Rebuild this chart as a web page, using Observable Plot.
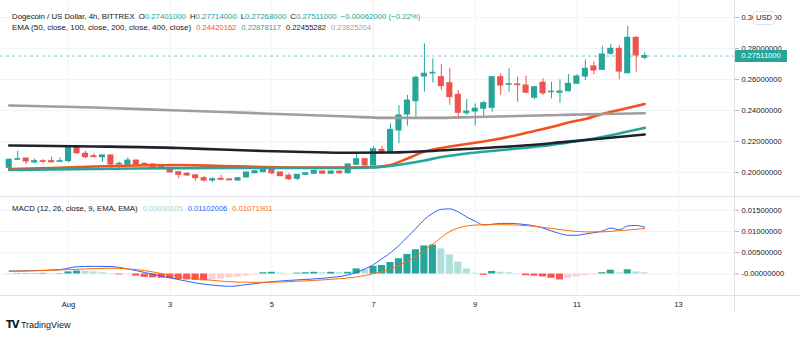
<!DOCTYPE html>
<html><head><meta charset="utf-8">
<script src="https://cdn.jsdelivr.net/npm/d3@7"></script>
<script src="https://cdn.jsdelivr.net/npm/@observablehq/plot@0.6"></script>
<style>
body{margin:0;background:#fff;font-family:"Liberation Sans",Arial,sans-serif;color:#131722}
#wrap{position:relative;width:800px;height:337px;overflow:hidden;background:#fff}
.abs{position:absolute}
.hdr{font-size:7.6px;white-space:nowrap;line-height:1}
.hdr span{margin-left:5px}
#h1{font-size:7.8px}
#h1 span{margin-left:4px}
.ttl2{font-size:8px}
</style></head><body><div id="wrap">
<div id="main" class="abs" style="left:0;top:0"></div>
<div id="macd" class="abs" style="left:0;top:197px"></div>
<div class="abs" style="left:0;top:196px;width:800px;height:1px;background:#e0e3eb"></div>
<div class="abs" style="left:0;top:295px;width:800px;height:1px;background:#e0e3eb"></div>
<div class="abs" style="left:734px;top:0;width:1px;height:313px;background:#e0e3eb"></div>
<div id="h1" class="abs hdr" style="left:12px;top:12.5px"></div>
<div id="h2" class="abs hdr" style="left:12px;top:24px"></div>
<div id="h3" class="abs hdr" style="left:12px;top:205px"></div>
<div id="usd" class="abs" style="left:753px;top:11px;width:20px;height:12px;border:1px solid #e0e3eb;border-radius:3px;background:#fff;font-size:7.6px;line-height:12px;text-align:center">USD</div>
<div id="plabel" class="abs" style="left:735px;width:52px;height:12px;background:#26a69a;color:#fff;font-size:7.6px;line-height:12px;text-align:center"></div>
<div class="abs" style="left:6px;top:319px;font-size:9px;white-space:nowrap"><b style="font-size:10px;letter-spacing:-1px;font-family:'DejaVu Sans'">TV</b> TradingView</div>
</div>
<script>
// ---- candle data (4h, index 0 = Jul 30 20:00) ----
const open  = [0.2030,0.2082,0.2090,0.2065,0.2073,0.2073,0.2069,0.2073,0.2170,0.2121,0.2105,0.2099,0.2110,0.2052,0.2050,0.2077,0.2056,0.2052,0.2034,0.2030,0.2002,0.1992,0.1981,0.1963,0.1948,0.1959,0.1955,0.1948,0.1968,0.1995,0.2002,0.2024,0.2000,0.1979,0.1959,0.1985,0.1992,0.2006,0.1992,0.2006,0.1995,0.2050,0.2086,0.2045,0.2146,0.2131,0.2271,0.2374,0.2460,0.2619,0.2639,0.2615,0.2576,0.2501,0.2382,0.2393,0.2411,0.2417,0.2615,0.2566,0.2568,0.2561,0.2482,0.2579,0.2518,0.2514,0.2524,0.2572,0.2619,0.2684,0.2662,0.2766,0.2798,0.2640,0.2869,0.27401];
const high  = [0.2087,0.2137,0.2092,0.2088,0.2082,0.2099,0.2095,0.2174,0.2174,0.2137,0.2121,0.2112,0.2112,0.2066,0.2095,0.2079,0.2060,0.2054,0.2045,0.2032,0.2006,0.1998,0.1987,0.1974,0.1966,0.1981,0.1959,0.1968,0.2002,0.2013,0.2032,0.2030,0.2002,0.1992,0.1987,0.1998,0.2015,0.2011,0.2011,0.2009,0.2056,0.2121,0.2090,0.2168,0.2168,0.2314,0.2432,0.2497,0.2621,0.2830,0.2733,0.2695,0.2673,0.2529,0.2471,0.2443,0.2460,0.2619,0.2637,0.2669,0.2615,0.2621,0.2555,0.2604,0.2582,0.2598,0.2632,0.2630,0.2727,0.2711,0.2815,0.2826,0.2819,0.2942,0.2877,0.27714];
const low   = [0.2026,0.2077,0.2052,0.2056,0.2056,0.2063,0.2063,0.2063,0.2116,0.2088,0.2095,0.2066,0.2013,0.2017,0.2045,0.2045,0.2047,0.2026,0.2019,0.1998,0.1961,0.1974,0.1945,0.1937,0.1937,0.1948,0.1946,0.1944,0.1966,0.1993,0.2000,0.1985,0.1974,0.1948,0.1948,0.1981,0.1987,0.1987,0.1987,0.1990,0.1990,0.2045,0.2041,0.2041,0.2120,0.2128,0.2185,0.2299,0.2357,0.2518,0.2576,0.2529,0.2432,0.2357,0.2368,0.2299,0.2346,0.2389,0.2497,0.2518,0.2453,0.2508,0.2471,0.2497,0.2475,0.2447,0.2519,0.2568,0.2593,0.2630,0.2658,0.2755,0.2598,0.2637,0.2647,0.27268];
const close = [0.2082,0.2086,0.2071,0.2073,0.2069,0.2066,0.2073,0.2163,0.2124,0.2099,0.2099,0.2110,0.2052,0.2056,0.2077,0.2050,0.2054,0.2030,0.2039,0.2000,0.1985,0.1981,0.1963,0.1948,0.1957,0.1953,0.1950,0.1963,0.2000,0.2008,0.2028,0.1995,0.1976,0.1957,0.1985,0.1995,0.2011,0.1992,0.2006,0.1995,0.2052,0.2086,0.2045,0.2150,0.2124,0.2275,0.2368,0.2464,0.2611,0.2637,0.2643,0.2557,0.2486,0.2385,0.2393,0.2411,0.2447,0.2615,0.2561,0.2570,0.2563,0.2514,0.2550,0.2511,0.2521,0.2522,0.2572,0.2619,0.2669,0.2658,0.2761,0.2798,0.2651,0.2869,0.2755,0.27511];

// ---- EMA lines (candle index, value) ----
const ema50Idx  = [0,5,10,15,20,25,30,35,40,43,45,47,49,51,54,57,60,62,64,66,68,70,72,75];
const ema50Val  = [0.2023,0.2029,0.2039,0.2045,0.2048,0.2042,0.2035,0.2032,0.2032,0.2035,0.2048,0.2090,0.2135,0.2158,0.2184,0.2210,0.2242,0.2268,0.2293,0.2323,0.2345,0.2377,0.2403,0.24420];
const ema100Idx = [0,5,10,15,20,25,30,35,40,43,45,47,49,51,54,57,60,63,66,68,70,73,75];
const ema100Val = [0.2016,0.2019,0.2023,0.2026,0.2028,0.2029,0.2029,0.2029,0.2029,0.2032,0.2042,0.2058,0.2077,0.2100,0.2123,0.2139,0.2155,0.2171,0.2194,0.2210,0.2229,0.2264,0.22878];
const ema200Idx = [0,10,20,25,30,35,40,45,50,55,60,65,70,75];
const ema200Val = [0.2174,0.2168,0.2158,0.2148,0.2139,0.2132,0.2127,0.2129,0.2139,0.2155,0.2171,0.2194,0.2219,0.22455];
const ema400Idx = [0,10,20,30,40,45,50,55,60,65,70,75];
const ema400Val = [0.2432,0.2419,0.2400,0.2381,0.2361,0.2352,0.2352,0.2358,0.2364,0.2371,0.2377,0.23825];

// ---- MACD ----
const histVal = [-0.0002,0.0001,0.0001,0.0001,0.00015,0.0001,0.0001,0.0005,0.0007,0.0006,0.0005,0.0003,0.0001,-0.0002,-0.0001,-0.0005,-0.0008,-0.0009,-0.0010,-0.0011,-0.0013,-0.0014,-0.0015,-0.0016,-0.0014,-0.0012,-0.0009,-0.0007,-0.0005,-0.0002,0.0003,0.0004,0.0002,0.0001,0.0002,0.0003,0.0004,0.0003,0.0004,0.0003,0.0004,0.0012,0.0010,0.0018,0.0020,0.0027,0.0036,0.0046,0.0057,0.0066,0.0068,0.0059,0.0045,0.0028,0.0012,0.0002,-0.0003,0.0006,0.0004,0.0003,0.0001,-0.0004,-0.0005,-0.0007,-0.0010,-0.0014,-0.0010,-0.0007,-0.0004,-0.0002,0.0003,0.0009,0.0003,0.0010,0.0005,0.00030105];
const macdIdx = [0,3,6,8,10,12,14,16,18,20,22,24,26,28,30,33,37,40,42,43,44,45,46,47,48,49,50,51,52,53,54,55,56,57,58,59,60,61,62,63,64,65,66,67,68,69,70,71,72,73,74,75];
const macdVal = [0.00066,0.0008,0.00106,0.0017,0.0018,0.00176,0.0012,0.00035,-0.0005,-0.0013,-0.0021,-0.0026,-0.0029,-0.0025,-0.0020,-0.0015,-0.0010,-0.0002,0.0012,0.0022,0.0036,0.0050,0.0067,0.0087,0.0107,0.0128,0.0143,0.0152,0.0153,0.0146,0.0134,0.0124,0.0115,0.0117,0.0119,0.0119,0.0118,0.0116,0.0113,0.0108,0.0101,0.0095,0.0091,0.0091,0.0094,0.0097,0.0101,0.0108,0.0104,0.0113,0.0114,0.01102006];
const sigIdx = [0,4,8,12,14,16,18,20,22,24,27,30,33,36,39,41,42,43,44,45,46,47,48,49,50,51,52,53,54,55,56,58,60,62,64,66,68,70,72,74,75];
const sigVal = [0.00066,0.0008,0.0011,0.00136,0.0012,0.0008,0.0001,-0.0006,-0.0011,-0.0015,-0.0019,-0.00195,-0.0018,-0.0015,-0.0011,-0.0007,-0.00035,0.0001,0.0006,0.0012,0.0020,0.0030,0.0041,0.0056,0.0070,0.0086,0.0100,0.0108,0.0113,0.0115,0.0116,0.0116,0.0115,0.0112,0.0107,0.0102,0.0099,0.0099,0.0102,0.0105,0.01071901];

// ---- ticks ----
const xTickPos = [7,19,31,43,55,67,79];
const xTickLabels = ["Aug","3","5","7","9","11","13"];
const priceTicks = [0.20,0.22,0.24,0.26,0.28,0.30];
const macdTicks = [0,0.005,0.01,0.015];
const macdTickLabels = ["-0.00000000","0.00500000","0.01000000","0.01500000"];

const GREEN="#26a69a", RED="#ef5350", GRID="#f0f3fa", TXT="#131722";
const XD=[-1.03,85.6];
const st={fontFamily:"Liberation Sans, Arial, sans-serif",fontSize:"7.6px",background:"transparent",overflow:"visible",color:TXT};
const candles = open.map((o,i)=>({i,o,h:high[i],l:low[i],c:close[i]}));
const col = d => d.c>=d.o?GREEN:RED;
const pts = (I,V)=>I.map((i,k)=>({i,v:V[k]}));

const main = Plot.plot({
  width:800,height:197,marginLeft:0,marginRight:66,marginTop:0,marginBottom:0,
  x:{type:"linear",domain:XD,axis:null},
  y:{domain:[0.18387,0.31094],axis:null},
  color:{type:"identity"},
  style:st,
  marks:[
    Plot.gridX(xTickPos,{stroke:GRID,strokeOpacity:1}),
    Plot.gridY(priceTicks,{stroke:GRID,strokeOpacity:1}),
    Plot.axisY(priceTicks,{anchor:"right",label:null,tickSize:4,tickPadding:3,stroke:"#b2b5be",fill:TXT,tickFormat:d3.format(".8f")}),
    Plot.ruleY([close[close.length-1]],{stroke:GREEN,strokeOpacity:0.6,strokeDasharray:"3,3"}),
    Plot.ruleX(candles,{x:"i",y1:"l",y2:"h",stroke:col}),
    Plot.rect(candles,{x1:d=>d.i-0.36,x2:d=>d.i+0.36,y1:"o",y2:"c",fill:col,insetTop:-0.5,insetBottom:-0.5}),
    Plot.line(pts(ema50Idx,ema50Val),{x:"i",y:"v",stroke:"#f4511e",strokeWidth:2.6,curve:"monotone-x"}),
    Plot.line(pts(ema100Idx,ema100Val),{x:"i",y:"v",stroke:"#26a69a",strokeWidth:2.6,curve:"monotone-x"}),
    Plot.line(pts(ema200Idx,ema200Val),{x:"i",y:"v",stroke:"#1e222d",strokeWidth:2.6,curve:"monotone-x"}),
    Plot.line(pts(ema400Idx,ema400Val),{x:"i",y:"v",stroke:"#9e9e9e",strokeWidth:2.6,curve:"monotone-x"})
  ]
});
document.getElementById("main").appendChild(main);

const hist = histVal.map((v,i)=>({i,v,p:i?histVal[i-1]:v}));
const hcol = d => d.v>=0 ? (d.v>=d.p?GREEN:"#b2dfdb") : (d.v<d.p?"#ff5252":"#ffcdd2");
const macd = Plot.plot({
  width:800,height:116,marginLeft:0,marginRight:66,marginTop:0,marginBottom:18,
  x:{type:"linear",domain:XD,axis:null},
  y:{domain:[-0.00505,0.01798],axis:null},
  color:{type:"identity"},
  style:st,
  marks:[
    Plot.gridX(xTickPos,{stroke:GRID,strokeOpacity:1}),
    Plot.gridY(macdTicks,{stroke:GRID,strokeOpacity:1}),
    Plot.axisY(macdTicks,{anchor:"right",label:null,tickSize:4,tickPadding:3,stroke:"#b2b5be",fill:TXT,tickFormat:d=>macdTickLabels[macdTicks.indexOf(d)]}),
    Plot.axisX(xTickPos,{anchor:"bottom",label:null,tickSize:0,tickPadding:6,fill:TXT,tickFormat:d=>xTickLabels[xTickPos.indexOf(d)]}),
    Plot.rect(hist,{x1:d=>d.i-0.42,x2:d=>d.i+0.42,y1:0,y2:"v",fill:hcol}),
    Plot.line(pts(macdIdx,macdVal),{x:"i",y:"v",stroke:"#2962ff",strokeWidth:1,curve:"monotone-x"}),
    Plot.line(pts(sigIdx,sigVal),{x:"i",y:"v",stroke:"#ff6d00",strokeWidth:1,curve:"monotone-x"})
  ]
});
document.getElementById("macd").appendChild(macd);

// overlays
const last = close[close.length-1];
const pl = document.getElementById("plabel");
pl.textContent = last.toFixed(8);
pl.style.top = (main.scale("y").apply(last)-6)+"px";
const f8 = d3.format(".8f");
const g = s => `<b style="font-weight:normal;color:${GREEN}">${s}</b>`;
document.getElementById("h1").innerHTML =
  `<span style="margin:0">Dogecoin / US Dollar, 4h, BITTREX</span><span>O${g(f8(open.at(-1)))}</span><span>H${g(f8(high.at(-1)))}</span><span>L${g(f8(low.at(-1)))}</span><span>C${g(f8(last))}</span><span style="color:${GREEN}">−0.00062000 (−0.22%)</span>`;
document.getElementById("h2").innerHTML =
  `<span class="ttl2" style="margin:0">EMA (50, close, 100, close, 200, close, 400, close)</span><span style="color:#f4511e">${f8(0.24420162)}</span><span style="color:#26a69a">${f8(0.22878117)}</span><span style="color:#131722">${f8(0.22455282)}</span><span style="color:#9e9e9e">${f8(0.23825204)}</span>`;
document.getElementById("h3").innerHTML =
  `<span style="margin:0;font-size:7.8px">MACD (12, 26, close, 9, EMA, EMA)</span><span style="color:#9fd6cf">${f8(histVal.at(-1))}</span><span style="color:#2962ff">${f8(macdVal.at(-1))}</span><span style="color:#ff6d00">${f8(sigVal.at(-1))}</span>`;
</script></body></html>
